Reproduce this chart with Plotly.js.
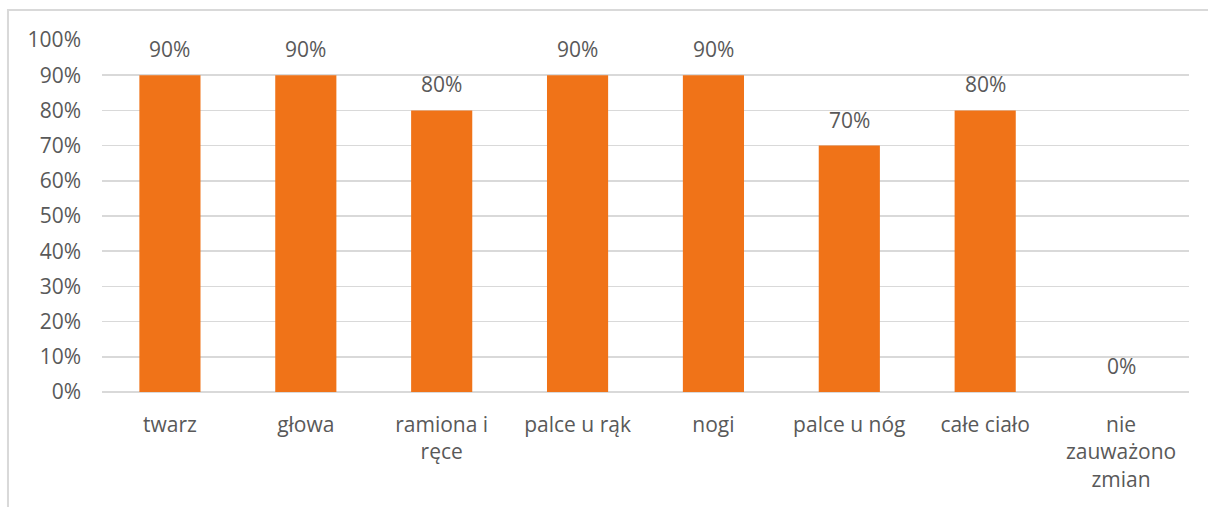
<!DOCTYPE html>
<html>
<head>
<meta charset="utf-8">
<script src="https://cdn.plot.ly/plotly-3.0.1.min.js"></script>
<style>
  html, body { margin: 0; padding: 0; background: #ffffff; }
  #chart { width: 1208px; height: 507px; }
</style>
</head>
<body>
<div id="chart"></div>
<script>
// Body areas where changes were noticed (category labels on the x axis)
const categories = [
  'twarz',
  'głowa',
  'ramiona i<br>ręce',
  'palce u rąk',
  'nogi',
  'palce u nóg',
  'całe ciało',
  'nie<br>zauważono<br>zmian'
];

// Share of answers per category (fractions of 1)
const shares = [0.9, 0.9, 0.8, 0.9, 0.9, 0.7, 0.8, 0.0];

// Y axis tick values
const yTicks = [0, 0.1, 0.2, 0.3, 0.4, 0.5, 0.6, 0.7, 0.8, 0.9, 1.0];

const BAR_COLOR = '#F07318';
const TEXT_COLOR = '#595959';
const GRID_COLOR = '#D9D9D9';
const FONT = '"Open Sans", "Noto Sans", sans-serif';
const FONT_SIZE = 21;

const pct = v => Math.round(v * 100) + '%';

const trace = {
  type: 'bar',
  x: categories,
  y: shares,
  marker: { color: BAR_COLOR, line: { width: 0 } },
  hoverinfo: 'skip'
};

// Value labels sit above each bar
const valueLabels = categories.map((c, i) => ({
  x: c,
  y: shares[i],
  xref: 'x',
  yref: 'y',
  text: pct(shares[i]),
  showarrow: false,
  yanchor: 'bottom',
  yshift: 10,
  font: { family: FONT, size: FONT_SIZE, color: TEXT_COLOR }
}));

const layout = {
  width: 1208,
  height: 507,
  margin: { l: 102, r: 19, t: 40, b: 115, pad: 0 },
  paper_bgcolor: '#ffffff',
  plot_bgcolor: '#ffffff',
  font: { family: FONT, size: FONT_SIZE, color: TEXT_COLOR },
  showlegend: false,
  bargap: 0.55,
  xaxis: {
    type: 'category',
    showgrid: false,
    zeroline: false,
    showline: false,
    ticks: '',
    ticklabelstandoff: 18,
    tickfont: { family: FONT, size: FONT_SIZE, color: TEXT_COLOR },
    fixedrange: true
  },
  yaxis: {
    range: [0, 1],
    tickvals: yTicks,
    ticktext: yTicks.map(pct),
    showgrid: true,
    gridcolor: GRID_COLOR,
    gridwidth: 1.5,
    zeroline: true,
    zerolinecolor: GRID_COLOR,
    zerolinewidth: 1.5,
    showline: false,
    ticks: '',
    ticklabelstandoff: 20,
    tickfont: { family: FONT, size: FONT_SIZE, color: TEXT_COLOR },
    fixedrange: true
  },
  annotations: valueLabels,
  shapes: [
    // Chart frame: top and left edges
    {
      type: 'path',
      xref: 'paper',
      yref: 'paper',
      path: 'M -0.0865,-0.35 L -0.0865,1.0852 L 1.03,1.0852',
      line: { color: GRID_COLOR, width: 2 },
      layer: 'below'
    }
  ]
};

Plotly.newPlot('chart', [trace], layout, { staticPlot: true, displayModeBar: false });
</script>
</body>
</html>
